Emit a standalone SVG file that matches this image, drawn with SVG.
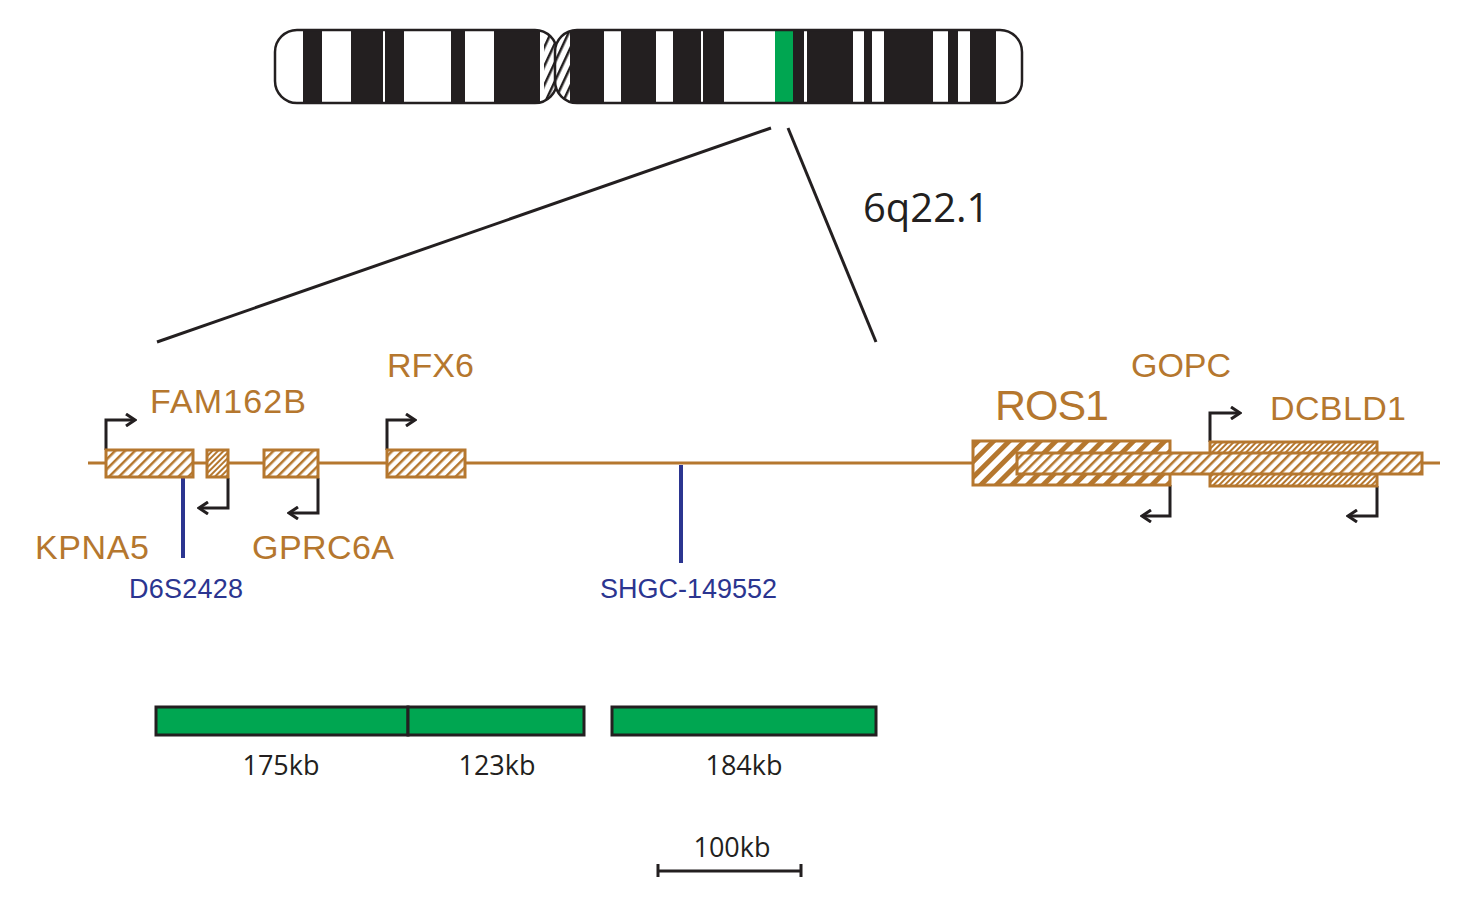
<svg xmlns="http://www.w3.org/2000/svg" width="1468" height="900" viewBox="0 0 1468 900">
<style>
.o{fill:#b5772e;font-family:"Liberation Sans",Arial,sans-serif}
.b{fill:#2b3590;font-family:"Liberation Sans",Arial,sans-serif;font-size:27px}
.k{fill:#231f20;font-family:"Open Sans","Liberation Sans",sans-serif}
.ar{fill:none;stroke:#231f20;stroke-width:3}
</style>
<defs>
<pattern id="h1" width="7" height="7" patternUnits="userSpaceOnUse" patternTransform="rotate(45)"><rect width="7" height="7" fill="#fff"/><rect width="2.5" height="7" fill="#b5772e"/></pattern>
<pattern id="h2" width="11" height="11" patternUnits="userSpaceOnUse" patternTransform="rotate(45)"><rect width="11" height="11" fill="#fff"/><rect width="5" height="11" fill="#b5772e"/></pattern>
<pattern id="h3" width="4" height="4" patternUnits="userSpaceOnUse" patternTransform="rotate(45)"><rect width="4" height="4" fill="#fff"/><rect width="2" height="4" fill="#b5772e"/></pattern>
<pattern id="hk" width="8" height="8" patternUnits="userSpaceOnUse" patternTransform="rotate(25)"><rect width="8" height="8" fill="#fff"/><rect width="2.5" height="8" fill="#231f20"/></pattern>
<clipPath id="cl"><rect x="275" y="30" width="282" height="73" rx="22"/></clipPath>
<clipPath id="cr"><rect x="555" y="30" width="467" height="73" rx="22"/></clipPath>
<marker id="a" markerWidth="12" markerHeight="14" refX="10" refY="7" orient="auto" markerUnits="userSpaceOnUse"><path d="M1,1 L10,7 L1,13" fill="none" stroke="#231f20" stroke-width="3"/></marker>
</defs>
<g id="chromosome">
<g clip-path="url(#cl)" fill="#231f20">
<rect x="275" y="30" width="282" height="73" fill="#fff"/>
<rect x="303" y="30" width="19" height="73"/><rect x="351" y="30" width="32" height="73"/><rect x="385" y="30" width="19" height="73"/>
<rect x="451" y="30" width="14" height="73"/><rect x="494" y="30" width="46" height="73"/><rect x="544" y="30" width="13" height="73" fill="url(#hk)"/>
</g>
<rect x="275" y="30" width="282" height="73" rx="22" fill="none" stroke="#231f20" stroke-width="2.5"/>
<g clip-path="url(#cr)" fill="#231f20">
<rect x="555" y="30" width="467" height="73" fill="#fff"/>
<rect x="555" y="30" width="15" height="73" fill="url(#hk)"/>
<rect x="570" y="30" width="34" height="73"/><rect x="621" y="30" width="35" height="73"/><rect x="673" y="30" width="28" height="73"/>
<rect x="703" y="30" width="21" height="73"/><rect x="775" y="30" width="18" height="73" fill="#00a651"/><rect x="793" y="30" width="11" height="73"/>
<rect x="807" y="30" width="46" height="73"/><rect x="864" y="30" width="8" height="73"/><rect x="884" y="30" width="49" height="73"/>
<rect x="948" y="30" width="10" height="73"/><rect x="970" y="30" width="26" height="73"/>
</g>
<rect x="555" y="30" width="467" height="73" rx="22" fill="none" stroke="#231f20" stroke-width="2.5"/>
</g>
<g id="connectors" fill="none">
<line x1="157" y1="342" x2="771" y2="128" stroke="#231f20" stroke-width="3"/>
<line x1="788" y1="128" x2="876" y2="342" stroke="#231f20" stroke-width="3"/>
<line x1="88" y1="463" x2="1440" y2="463" stroke="#b5772e" stroke-width="3"/>
<line x1="183" y1="477" x2="183" y2="558" stroke="#2b3590" stroke-width="4"/>
<line x1="681" y1="465" x2="681" y2="563" stroke="#2b3590" stroke-width="4"/>
<path class="ar" d="M106,450 V420 H135" marker-end="url(#a)"/>
<path class="ar" d="M228,478 V508 H199" marker-end="url(#a)"/>
<path class="ar" d="M318,478 V513 H289" marker-end="url(#a)"/>
<path class="ar" d="M387,450 V420 H415" marker-end="url(#a)"/>
<path class="ar" d="M1170,485 V516 H1142" marker-end="url(#a)"/>
<path class="ar" d="M1210,442 V413 H1240" marker-end="url(#a)"/>
<path class="ar" d="M1377,486 V516 H1348" marker-end="url(#a)"/>
</g>
<g id="genes" stroke="#b5772e" stroke-width="3">
<rect id="KPNA5" x="106" y="450" width="87" height="27" fill="url(#h1)"/>
<rect id="FAM162B" x="207" y="450" width="21" height="27" fill="url(#h3)"/>
<rect id="GPRC6A" x="264" y="450" width="54" height="27" fill="url(#h1)"/>
<rect id="RFX6" x="387" y="450" width="78" height="27" fill="url(#h1)"/>
<rect id="ROS1" x="973" y="441" width="197" height="44" fill="url(#h2)"/>
<rect id="GOPC" x="1210" y="442" width="167" height="44" fill="url(#h3)"/>
<rect id="DCBLD1" x="1017" y="453" width="405" height="21" fill="url(#h1)"/>
</g>
<g id="labels">
<text class="k" x="863" y="222" font-size="40">6q22.1</text>
<text class="o" x="150" y="413" font-size="34" textLength="156">FAM162B</text>
<text class="o" x="387" y="377" font-size="34">RFX6</text>
<text class="o" x="35" y="559" font-size="34" textLength="114">KPNA5</text>
<text class="o" x="252" y="559" font-size="34" textLength="142">GPRC6A</text>
<text class="o" x="995" y="420" font-size="43" textLength="114">ROS1</text>
<text class="o" x="1131" y="377" font-size="34" textLength="100">GOPC</text>
<text class="o" x="1270" y="420" font-size="34" textLength="136">DCBLD1</text>
<text class="b" x="129" y="598" textLength="114">D6S2428</text>
<text class="b" x="600" y="598">SHGC-149552</text>
</g>
<g id="bars" fill="#00a651" stroke="#231f20" stroke-width="3">
<rect x="156" y="707" width="252" height="28"/><rect x="408" y="707" width="176" height="28"/><rect x="612" y="707" width="264" height="28"/>
</g>
<g class="k" font-size="27" text-anchor="middle">
<text x="281" y="775">175kb</text><text x="497" y="775">123kb</text><text x="744" y="775">184kb</text><text x="732" y="857">100kb</text>
</g>
<path id="scalebar" d="M658,864 V877 M658,871 H801 M801,864 V877" fill="none" stroke="#231f20" stroke-width="3"/>
</svg>
